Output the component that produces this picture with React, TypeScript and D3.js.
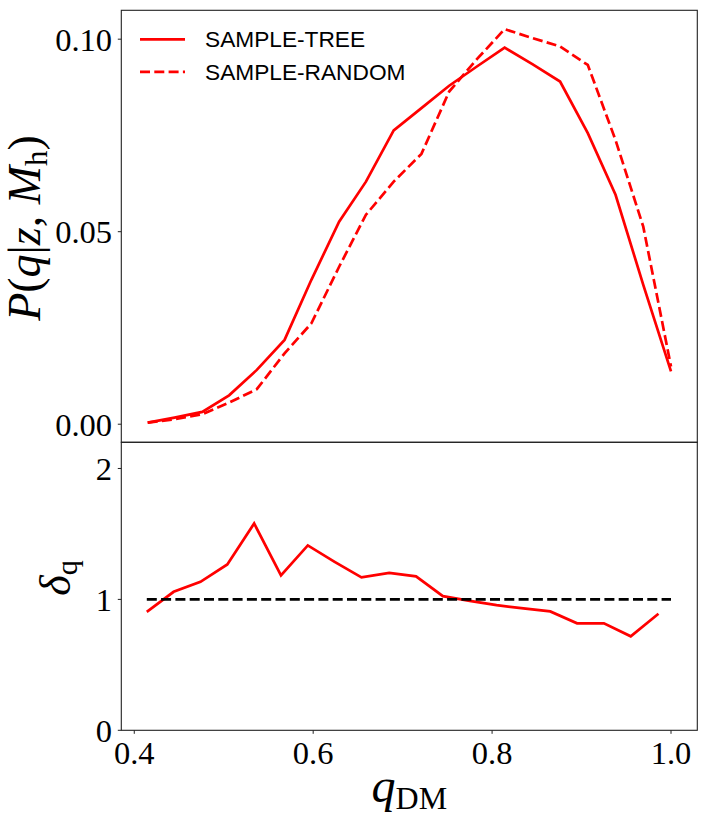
import React, { useEffect, useRef } from 'react';
import * as d3 from 'd3';

// top panel: P(q | z, M_h)
const qTop = [0.415, 0.445, 0.476, 0.506, 0.537, 0.568, 0.598, 0.629, 0.659, 0.690,
    0.721, 0.752, 0.783, 0.814, 0.845, 0.876, 0.907, 0.938, 0.969, 1.0];
const pTree = [0.0004, 0.0017, 0.0032, 0.0075, 0.0141, 0.0219, 0.0375, 0.0526, 0.0630, 0.0763,
    0.0821, 0.0879, 0.0929, 0.0978, 0.0935, 0.0890, 0.0756, 0.0596, 0.0362, 0.0137];
const pRandom = [0.0004, 0.0013, 0.0026, 0.0056, 0.0091, 0.0184, 0.0262, 0.0409, 0.0544, 0.0630,
    0.0702, 0.0864, 0.0948, 0.1026, 0.1003, 0.0981, 0.0933, 0.0738, 0.0513, 0.0150];

// bottom panel: ratio delta_q
const qRatio = [0.414, 0.444, 0.474, 0.504, 0.534, 0.564, 0.594, 0.624, 0.654, 0.685,
    0.715, 0.745, 0.775, 0.805, 0.835, 0.865, 0.895, 0.925, 0.955, 0.986];
const deltaQ = [0.905, 1.058, 1.134, 1.267, 1.580, 1.183, 1.412, 1.287, 1.168, 1.203,
    1.176, 1.025, 0.989, 0.956, 0.931, 0.908, 0.817, 0.817, 0.718, 0.890];
const refLine = [[0.414, 1], [1.0, 1]];

const xTicks = [0.4, 0.6, 0.8, 1.0];
const topTicks = [0.0, 0.05, 0.10];
const bottomTicks = [0, 1, 2];
const legendItems = [
    { label: 'SAMPLE-TREE', dash: null },
    { label: 'SAMPLE-RANDOM', dash: '10 4.3' },
];

const W = 707, H = 826;
const RED = '#ff0000';
const SERIF = '"Liberation Serif", "DejaVu Serif", serif';
const SANS = '"Liberation Sans", Arial, sans-serif';

export default function App() {
    const ref = useRef<SVGSVGElement>(null);

    useEffect(() => {
        const svg = d3.select(ref.current);
        svg.selectAll('*').remove();

        const left = 121.3, right = 697.3, top = 10.3, mid = 442.3, bottom = 730.3;

        const x = d3.scaleLinear().domain([0.3855, 1.0294]).range([left, right]);
        const yTop = d3.scaleLinear().domain([-0.0047, 0.1075]).range([mid, top]);
        const yBot = d3.scaleLinear().domain([0, 2.2]).range([bottom, mid]);

        // frames
        svg.append('rect')
            .attr('x', left).attr('y', top)
            .attr('width', right - left).attr('height', mid - top)
            .attr('fill', 'none').attr('stroke', '#222').attr('stroke-width', 1.1);
        svg.append('rect')
            .attr('x', left).attr('y', mid)
            .attr('width', right - left).attr('height', bottom - mid)
            .attr('fill', 'none').attr('stroke', '#222').attr('stroke-width', 1.1);

        // y ticks top
        const tTop = svg.append('g');
        topTicks.forEach(t => {
            tTop.append('line').attr('x1', left - 3.5).attr('x2', left)
                .attr('y1', yTop(t)).attr('y2', yTop(t)).attr('stroke', '#222');
            tTop.append('text').attr('x', 112).attr('y', yTop(t)).attr('dy', '0.35em')
                .attr('text-anchor', 'end').style('font-family', SERIF).style('font-size', '32.5px')
                .text(d3.format('.2f')(t));
        });

        // y ticks bottom
        const tBot = svg.append('g');
        bottomTicks.forEach(t => {
            tBot.append('line').attr('x1', left - 3.5).attr('x2', left)
                .attr('y1', yBot(t)).attr('y2', yBot(t)).attr('stroke', '#222');
            tBot.append('text').attr('x', 112).attr('y', yBot(t)).attr('dy', '0.35em')
                .attr('text-anchor', 'end').style('font-family', SERIF).style('font-size', '32.5px')
                .text(String(t));
        });

        // x ticks
        const tx = svg.append('g');
        xTicks.forEach(t => {
            tx.append('line').attr('x1', x(t)).attr('x2', x(t))
                .attr('y1', bottom).attr('y2', bottom + 3.5).attr('stroke', '#222');
            tx.append('text').attr('x', x(t)).attr('y', 764)
                .attr('text-anchor', 'middle').style('font-family', SERIF).style('font-size', '32.5px')
                .text(d3.format('.1f')(t));
        });

        // top lines
        const lineTop = d3.line<number>().x((_, i) => x(qTop[i])).y(d => yTop(d));
        svg.append('path').attr('d', lineTop(pTree)!)
            .attr('fill', 'none').attr('stroke', RED).attr('stroke-width', 2.7);
        svg.append('path').attr('d', lineTop(pRandom)!)
            .attr('fill', 'none').attr('stroke', RED).attr('stroke-width', 2.7)
            .attr('stroke-dasharray', '10 4.3');

        // bottom lines
        const lineBot = d3.line<number>().x((_, i) => x(qRatio[i])).y(d => yBot(d));
        svg.append('path').attr('d', lineBot(deltaQ)!)
            .attr('fill', 'none').attr('stroke', RED).attr('stroke-width', 2.7);
        svg.append('path')
            .attr('d', d3.line<number[]>().x(d => x(d[0])).y(d => yBot(d[1]))(refLine)!)
            .attr('fill', 'none').attr('stroke', '#000').attr('stroke-width', 2.7)
            .attr('stroke-dasharray', '10 4.3');

        // legend
        const lg = svg.append('g');
        legendItems.forEach((it, i) => {
            const yy = 39.3 + i * 32.5;
            const ln = lg.append('line').attr('x1', 140).attr('x2', 185)
                .attr('y1', yy).attr('y2', yy).attr('stroke', RED).attr('stroke-width', 2.7);
            if (it.dash) ln.attr('stroke-dasharray', it.dash);
            lg.append('text').attr('x', 205).attr('y', yy).attr('dy', '0.36em')
                .style('font-family', SANS).style('font-size', '22.7px').text(it.label);
        });

        // y label top
        const yl = svg.append('text')
            .attr('transform', 'translate(40,228) rotate(-90)')
            .attr('text-anchor', 'middle')
            .style('font-family', SERIF).style('font-size', '46px');
        yl.append('tspan').style('font-style', 'italic').text('P');
        yl.append('tspan').text('(');
        yl.append('tspan').style('font-style', 'italic').text('q');
        yl.append('tspan').text('|');
        yl.append('tspan').style('font-style', 'italic').text('z');
        yl.append('tspan').text(', ');
        yl.append('tspan').style('font-style', 'italic').text('M');
        yl.append('tspan').attr('dy', 7).style('font-size', '31px').text('h');
        yl.append('tspan').attr('dy', -7).text(')');

        // y label bottom
        const dl = svg.append('text')
            .attr('transform', 'translate(70,578) rotate(-90)')
            .attr('text-anchor', 'middle')
            .style('font-family', SERIF).style('font-size', '44px');
        dl.append('tspan').style('font-style', 'italic').text('δ');
        dl.append('tspan').attr('dy', 7).style('font-size', '30px').text('q');

        // x label
        const xl = svg.append('text')
            .attr('x', (left + right) / 2).attr('y', 802)
            .attr('text-anchor', 'middle')
            .style('font-family', SERIF);
        xl.append('tspan').style('font-style', 'italic').style('font-size', '48px').text('q');
        xl.append('tspan').attr('dy', 7).style('font-size', '32px').text('DM');
    }, []);

    return (
        <svg ref={ref} width={W} height={H}
            style={{ position: 'absolute', left: 0, top: 0, background: '#fff' }} />
    );
}
